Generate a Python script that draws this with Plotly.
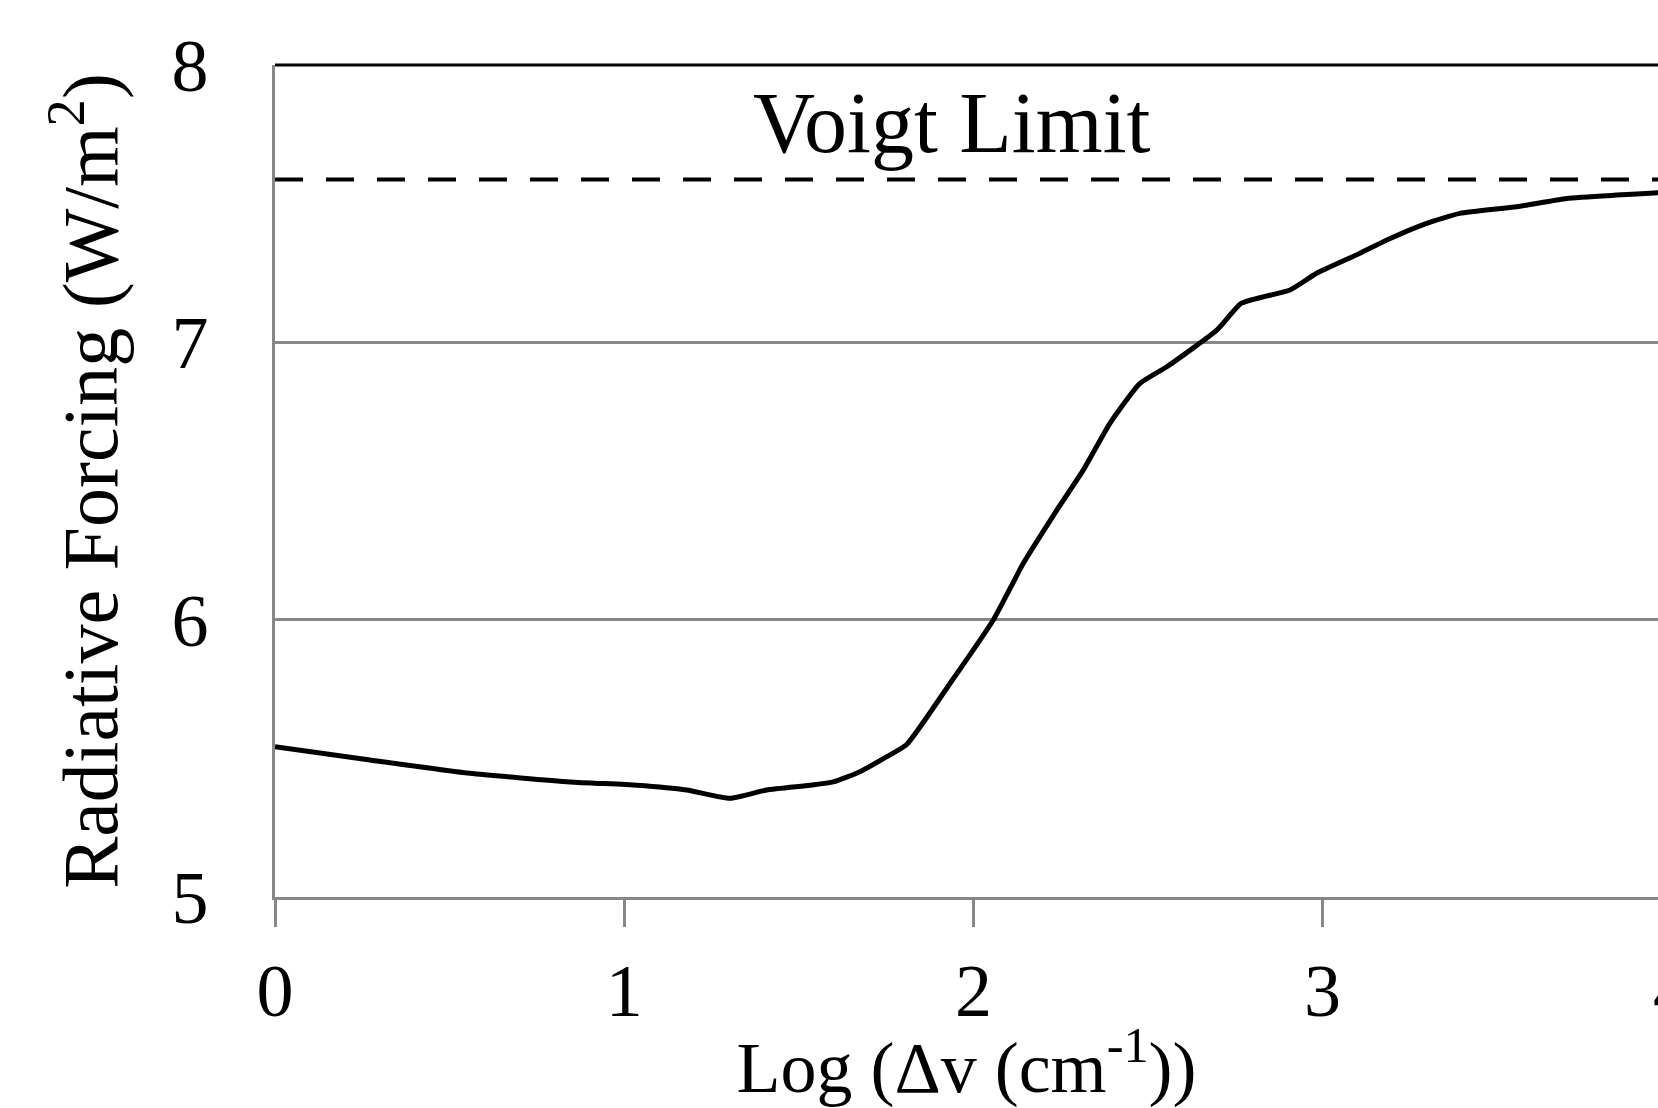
import plotly.graph_objects as go

# Radiative forcing vs. log line width
log_dv = [0.0, 0.272, 0.558, 0.845, 1.036, 1.179, 1.303, 1.408, 1.532, 1.599,
          1.675, 1.752, 1.809, 1.933, 2.057, 2.143, 2.239, 2.315, 2.391, 2.477,
          2.554, 2.697, 2.768, 2.907, 2.983, 3.107, 3.184, 3.298, 3.393, 3.556,
          3.699, 3.842, 3.961, 4.0]
forcing = [5.542, 5.494, 5.446, 5.415, 5.403, 5.386, 5.356, 5.386, 5.403, 5.415,
           5.452, 5.506, 5.550, 5.770, 5.999, 6.203, 6.395, 6.540, 6.708, 6.852,
           6.912, 7.044, 7.141, 7.189, 7.249, 7.321, 7.369, 7.429, 7.465, 7.489,
           7.519, 7.531, 7.539, 7.541]

voigt_limit = 7.587
voigt_label = "Voigt Limit"

x_ticks = [0, 1, 2, 3]
y_ticks = [5, 6, 7, 8]

FONT = "Liberation Serif, Times New Roman, serif"
GRID = "#878787"

fig = go.Figure()

fig.add_trace(go.Scatter(
    x=[0, 4], y=[voigt_limit, voigt_limit], mode="lines",
    line=dict(color="black", width=4, dash="28px,23px"),
    hoverinfo="skip", showlegend=False,
))
fig.add_trace(go.Scatter(
    x=log_dv, y=forcing, mode="lines",
    line=dict(color="black", width=5, shape="spline", smoothing=0.5),
    showlegend=False,
))

# black top border of the plot frame
fig.add_shape(type="line", xref="paper", yref="paper", x0=0, x1=1, y0=1, y1=1,
              line=dict(color="black", width=3))

fig.add_annotation(x=1.94, y=7.79, xref="x", yref="y", text=voigt_label,
                   showarrow=False, font=dict(family=FONT, size=86, color="black"),
                   xanchor="center", yanchor="middle")

# the "4" tick sits just past the right edge of the figure
fig.add_annotation(x=1.0101, y=-0.113, xref="paper", yref="paper", text="4",
                   showarrow=False, font=dict(family=FONT, size=74, color="black"),
                   xanchor="center", yanchor="middle")

fig.update_layout(
    width=1658, height=1108,
    margin=dict(l=275, r=0, t=65, b=211),
    paper_bgcolor="white", plot_bgcolor="white",
    font=dict(family=FONT, size=74, color="black"),
    xaxis=dict(
        range=[0, 3.9605], tickvals=x_ticks, ticktext=[str(t) for t in x_ticks],
        showgrid=False, zeroline=False, automargin=False,
        showline=True, linecolor=GRID, linewidth=2.5,
        ticks="outside", ticklen=27, tickwidth=2.5, tickcolor=GRID,
        ticklabelstandoff=0,
        title=dict(text="Log (\u0394v (cm<sup>-1</sup>))", standoff=34,
                   font=dict(family=FONT, size=72)),
    ),
    yaxis=dict(
        range=[5, 8], tickvals=y_ticks, ticktext=[str(t) for t in y_ticks],
        showgrid=True, gridcolor=GRID, gridwidth=2.5, automargin=False,
        zeroline=False, showline=True, linecolor=GRID, linewidth=2.5,
        ticks="", ticklabelstandoff=49,
        title=dict(text="Radiative Forcing (W/m<sup>2</sup>)", standoff=29,
                   font=dict(family=FONT, size=78)),
    ),
)

fig.write_html("out.html")
